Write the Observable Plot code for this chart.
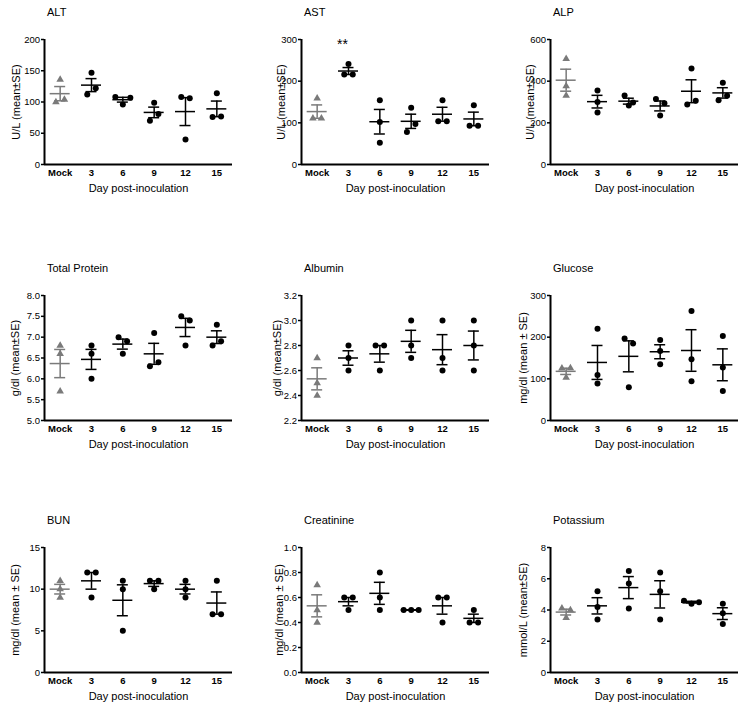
<!DOCTYPE html>
<html><head><meta charset="utf-8">
<script src="https://cdn.jsdelivr.net/npm/d3@7"></script>
<script src="https://cdn.jsdelivr.net/npm/@observablehq/plot@0.6"></script>
<style>
body{margin:0;background:#fff;}
#root{position:relative;width:744px;height:710px;font-family:"Liberation Sans",Arial,sans-serif;background:#fff;}
.title{position:absolute;font-size:11px;line-height:13px;color:#000;white-space:nowrap;}
.panel{position:absolute;}
g[aria-label="x-axis tick label"] text{font-weight:bold;}
</style></head><body><div id="root"></div><script>
// ---- data ----
const days = ["Mock","3","6","9","12","15"];
const xTitle = "Day post-inoculation";

const altValues = [[136,100,104],[147,112,122],[108,96,107],[99,70,81],[108,106,40],[114,76,77]];
const astValues = [[159,111,111],[241,216,216],[154,102,52],[136,78,97],[154,104,104],[142,93,93]];
const alpValues = [[507,376,331],[355,300,250],[331,298,283],[314,294,235],[461,288,306],[392,309,330]];
const tpValues  = [[6.8,6.6,5.7],[6.8,6.6,6.0],[7.0,6.9,6.6],[7.1,6.3,6.4],[7.5,7.4,6.8],[7.3,6.8,6.9]];
const albValues = [[2.7,2.5,2.4],[2.8,2.7,2.6],[2.8,2.8,2.6],[3.0,2.8,2.7],[3.0,2.7,2.6],[3.0,2.8,2.6]];
const gluValues = [[125,126,103],[220,109,89],[197,185,80],[193,167,135],[263,147,94],[203,127,71]];
const bunValues = [[11,10,9],[12,12,9],[11,10,5],[11,11,10],[11,10,9],[11,7,7]];
const creValues = [[0.7,0.5,0.4],[0.6,0.6,0.5],[0.8,0.6,0.5],[0.5,0.5,0.5],[0.6,0.6,0.4],[0.5,0.4,0.4]];
const potValues = [[4.1,4.0,3.5],[5.2,4.2,3.4],[6.5,5.7,4.1],[6.4,5.2,3.4],[4.6,4.4,4.5],[4.4,3.8,3.1]];

const altTicks = [0,50,100,150,200];
const astTicks = [0,100,200,300];
const alpTicks = [0,200,400,600];
const tpTicks  = [5.0,5.5,6.0,6.5,7.0,7.5,8.0];
const albTicks = [2.2,2.4,2.6,2.8,3.0,3.2];
const gluTicks = [0,100,200,300];
const bunTicks = [0,5,10,15];
const creTicks = [0.0,0.2,0.4,0.6,0.8,1.0];
const potTicks = [0,2,4,6,8];

const titles  = ["ALT","AST","ALP","Total Protein","Albumin","Glucose","BUN","Creatinine","Potassium"];
const yLabels = ["U/L (mean±SE)","U/L (mean±SE)","U/L (mean±SE)","g/dl (mean±SE)","g/dl (mean±SE)",
                 "mg/dl (mean ± SE)","mg/dl (mean ± SE)","mg/dl (mean ± SE)","mmol/L (mean±SE)"];
const annotations = [{panel: "AST", day: "3", text: "**"}];

// ---- layout ----
const panels = [
  {values: altValues, ticks: altTicks, fmt: "d",   off: 28},
  {values: astValues, ticks: astTicks, fmt: "d",   off: 20},
  {values: alpValues, ticks: alpTicks, fmt: "d",   off: 20},
  {values: tpValues,  ticks: tpTicks,  fmt: ".1f", off: 29},
  {values: albValues, ticks: albTicks, fmt: ".1f", off: 24},
  {values: gluValues, ticks: gluTicks, fmt: "d",   off: 27.5},
  {values: bunValues, ticks: bunTicks, fmt: "d",   off: 29},
  {values: creValues, ticks: creTicks, fmt: ".1f", off: 22},
  {values: potValues, ticks: potTicks, fmt: "d",   off: 27.5}
];
const axisXs = [44, 301, 550];
const plotTops = [39, 295, 547];
const ml = 45, mr = 5, mt = 6, mb = 44, pw = 188, ph = 125;
const root = document.getElementById("root");

panels.forEach((cfg, p) => {
  const col = p % 3, row = Math.floor(p / 3);
  const step = pw / days.length;
  const ymin = cfg.ticks[0], ymax = cfg.ticks[cfg.ticks.length - 1];
  const ppu = ph / (ymax - ymin);
  const pts = [], stats = [];
  cfg.values.forEach((vals, i) => {
    const groups = [];
    for (const v of vals) {
      const g = groups.find(g => Math.abs(g[0] - v) * ppu < 8);
      if (g) g.push(v); else groups.push([v]);
    }
    for (const g of groups) {
      const s = g.length === 2 ? 8.5 : 7.5;
      g.forEach((v, k) => pts.push({i, v, x: i + (k - (g.length - 1) / 2) * s / step}));
    }
    const m = d3.mean(vals), se = d3.deviation(vals) / Math.sqrt(vals.length);
    stats.push({i, m, lo: m - se, hi: m + se});
  });
  const capW = 5.5 / step, meanW = 10 / step;
  const errMarks = (data, color) => [
    Plot.ruleX(data, {x: "i", y1: "lo", y2: "hi", stroke: color, strokeWidth: 1.5}),
    Plot.ruleY(data, {y: "hi", x1: d => d.i - capW, x2: d => d.i + capW, stroke: color, strokeWidth: 1.5}),
    Plot.ruleY(data, {y: "lo", x1: d => d.i - capW, x2: d => d.i + capW, stroke: color, strokeWidth: 1.5}),
    Plot.ruleY(data, {y: "m", x1: d => d.i - meanW, x2: d => d.i + meanW, stroke: color, strokeWidth: 1.5})
  ];
  const ann = annotations.filter(a => a.panel === titles[p]).map(a => ({...a, i: days.indexOf(a.day)}));
  const chart = Plot.plot({
    width: ml + pw + mr, height: mt + ph + mb,
    marginLeft: ml, marginRight: mr, marginTop: mt, marginBottom: mb,
    x: {domain: [-0.5, days.length - 0.5]},
    y: {domain: [ymin, ymax]},
    style: {fontFamily: "'Liberation Sans', Arial, sans-serif", color: "#000", background: "transparent", overflow: "visible"},
    marks: [
      Plot.axisY({ticks: cfg.ticks, tickFormat: d3.format(cfg.fmt), tickSize: 3, tickPadding: 1.5, fontSize: 9.5, strokeWidth: 1.5, label: null}),
      Plot.axisX({ticks: d3.range(days.length), tickFormat: i => days[i], tickSize: 0, tickPadding: 5, fontSize: 9.5, fontWeight: "bold", label: null}),
      ...errMarks(stats.filter(d => d.i === 0), "#7a7a7a"),
      ...errMarks(stats.filter(d => d.i > 0), "#000"),
      Plot.dot(pts.filter(d => d.i === 0), {x: "x", y: "v", symbol: "triangle", r: 2.8, fill: "#7a7a7a", stroke: "none"}),
      Plot.dot(pts.filter(d => d.i > 0), {x: "x", y: "v", r: 3, fill: "#000", stroke: "none"}),
      Plot.ruleX([-0.5], {stroke: "#000", strokeWidth: 2}),
      Plot.ruleY([ymin], {stroke: "#000", strokeWidth: 2}),
      Plot.text(ann, {x: "i", text: "text", frameAnchor: "top", lineAnchor: "top", dx: -6, fontSize: 14}),
      Plot.text([yLabels[p]], {frameAnchor: "left", textAnchor: "middle", rotate: -90, dx: -cfg.off, fontSize: 11}),
      Plot.text([xTitle], {frameAnchor: "bottom", dy: 27, fontSize: 11})
    ]
  });
  const wrap = document.createElement("div");
  wrap.className = "panel";
  wrap.style.left = (axisXs[col] - ml) + "px";
  wrap.style.top = (plotTops[row] - mt) + "px";
  wrap.appendChild(chart);
  root.appendChild(wrap);
  const t = document.createElement("div");
  t.className = "title";
  t.textContent = titles[p];
  t.style.left = (axisXs[col] + 3) + "px";
  t.style.top = (plotTops[row] - 27 - 6.5) + "px";
  root.appendChild(t);
});
</script></body></html>
